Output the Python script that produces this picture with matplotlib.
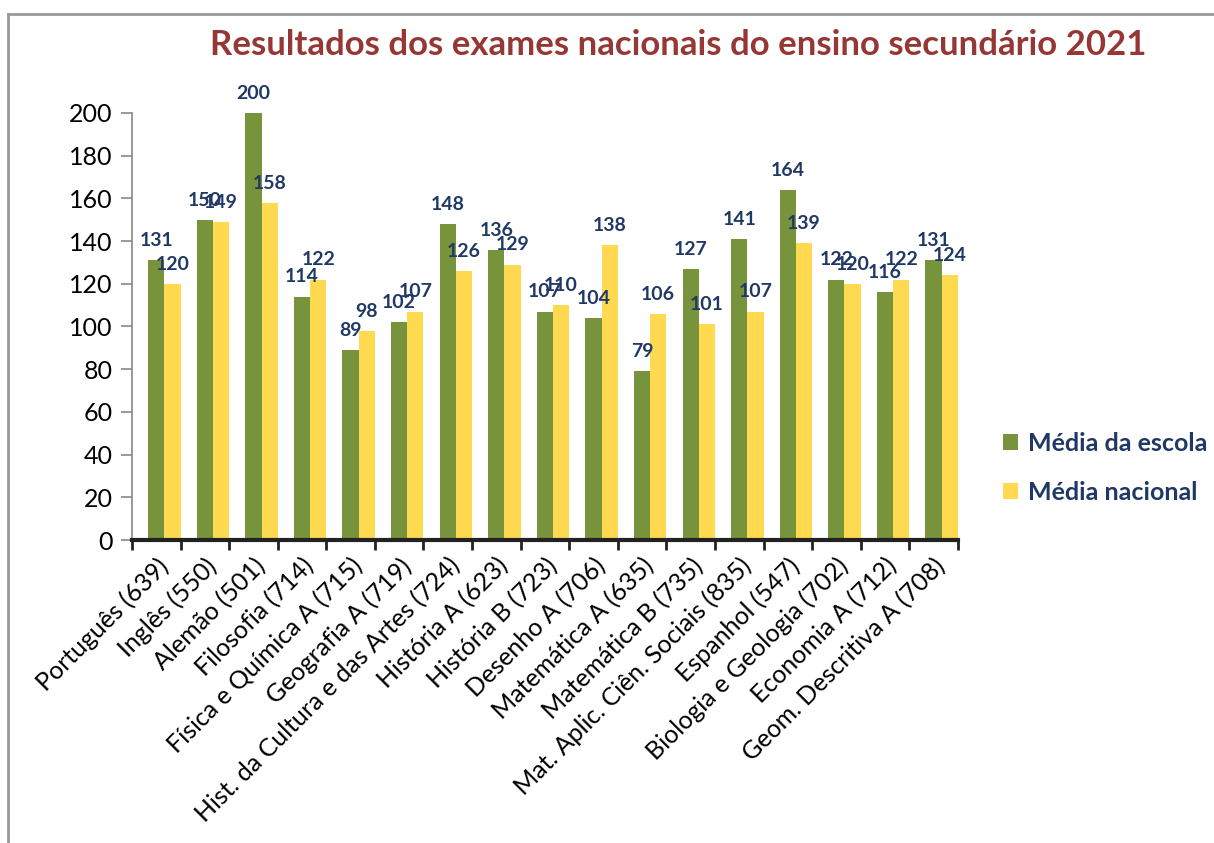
import numpy as np
import matplotlib
matplotlib.use("Agg")
import matplotlib.pyplot as plt
from matplotlib.lines import Line2D

# dados do gráfico
disciplinas = ["Português (639)", "Inglês (550)", "Alemão (501)", "Filosofia (714)",
               "Física e Química A (715)", "Geografia A (719)",
               "Hist. da Cultura e das Artes (724)", "História A (623)",
               "História B (723)", "Desenho A (706)", "Matemática A (635)",
               "Matemática B (735)", "Mat. Aplic. Ciên. Sociais (835)",
               "Espanhol (547)", "Biologia e Geologia (702)", "Economia A (712)",
               "Geom. Descritiva A (708)"]
media_escola = [131, 150, 200, 114, 89, 102, 148, 136, 107, 104, 79, 127, 141, 164, 122, 116, 131]
media_nacional = [120, 149, 158, 122, 98, 107, 126, 129, 110, 138, 106, 101, 107, 139, 120, 122, 124]
y_ticks = [0, 20, 40, 60, 80, 100, 120, 140, 160, 180, 200]

verde = "#77933C"
amarelo = "#FFD94F"
azul = "#1F3864"
vermelho = "#953735"

plt.rcParams['font.family'] = ['Lato', 'DejaVu Sans']

fig = plt.figure(figsize=(12.14, 8.43), dpi=100)
ax = fig.add_axes([0.1087, 0.3594, 0.789 - 0.1087, 0.866 - 0.3594])

x = np.arange(len(disciplinas))
w = 1/3
# no original as barras ficam encostadas à marca da direita
b1 = ax.bar(x, media_escola, w, color=verde, label="Média da escola")
b2 = ax.bar(x + w, media_nacional, w, color=amarelo, label="Média nacional")

for bars in (b1, b2):
    ax.bar_label(bars, padding=8, color=azul, fontsize=14, fontweight='bold')

ax.set_xlim(-0.5, len(disciplinas) - 0.5)
ax.set_ylim(0, 200)
ax.set_yticks(y_ticks)
ax.tick_params(axis='y', labelsize=18, length=8, color='#888888', width=1.2, pad=6)

# marcas entre categorias
ax.set_xticks(np.arange(len(disciplinas) + 1) - 0.5)
ax.set_xticklabels([])
ax.tick_params(axis='x', which='major', length=7, width=2, color='#222222')
ax.set_xticks(x, minor=True)
ax.set_xticklabels(disciplinas, minor=True, rotation=45, ha='right',
                   rotation_mode='anchor', fontsize=18)
ax.tick_params(axis='x', which='minor', length=0, pad=10)

for s in ('top', 'right'):
    ax.spines[s].set_visible(False)
ax.spines['left'].set_color('#888888')
ax.spines['left'].set_linewidth(1.2)
ax.spines['bottom'].set_color('#222222')
ax.spines['bottom'].set_linewidth(3)

fig.text(0.559, 0.947, "Resultados dos exames nacionais do ensino secundário 2021",
         ha='center', va='center', fontsize=25, fontweight='bold', color=vermelho)

leg = fig.legend(handles=[b1, b2], loc='center left', bbox_to_anchor=(0.826, 0.445),
                 frameon=False, fontsize=18, handlelength=0.6, handleheight=0.6,
                 handletextpad=0.4, labelspacing=1.05, borderpad=0, borderaxespad=0)
for t in leg.get_texts():
    t.set_color(azul)
    t.set_fontweight('bold')

# moldura do gráfico
fig.add_artist(Line2D([8/1214, 8/1214], [0, 1 - 14/843], color='#999999', lw=2,
                      transform=fig.transFigure))
fig.add_artist(Line2D([8/1214, 1], [1 - 14/843, 1 - 14/843], color='#999999', lw=2,
                      transform=fig.transFigure))

fig.savefig("out.png", dpi=100)
